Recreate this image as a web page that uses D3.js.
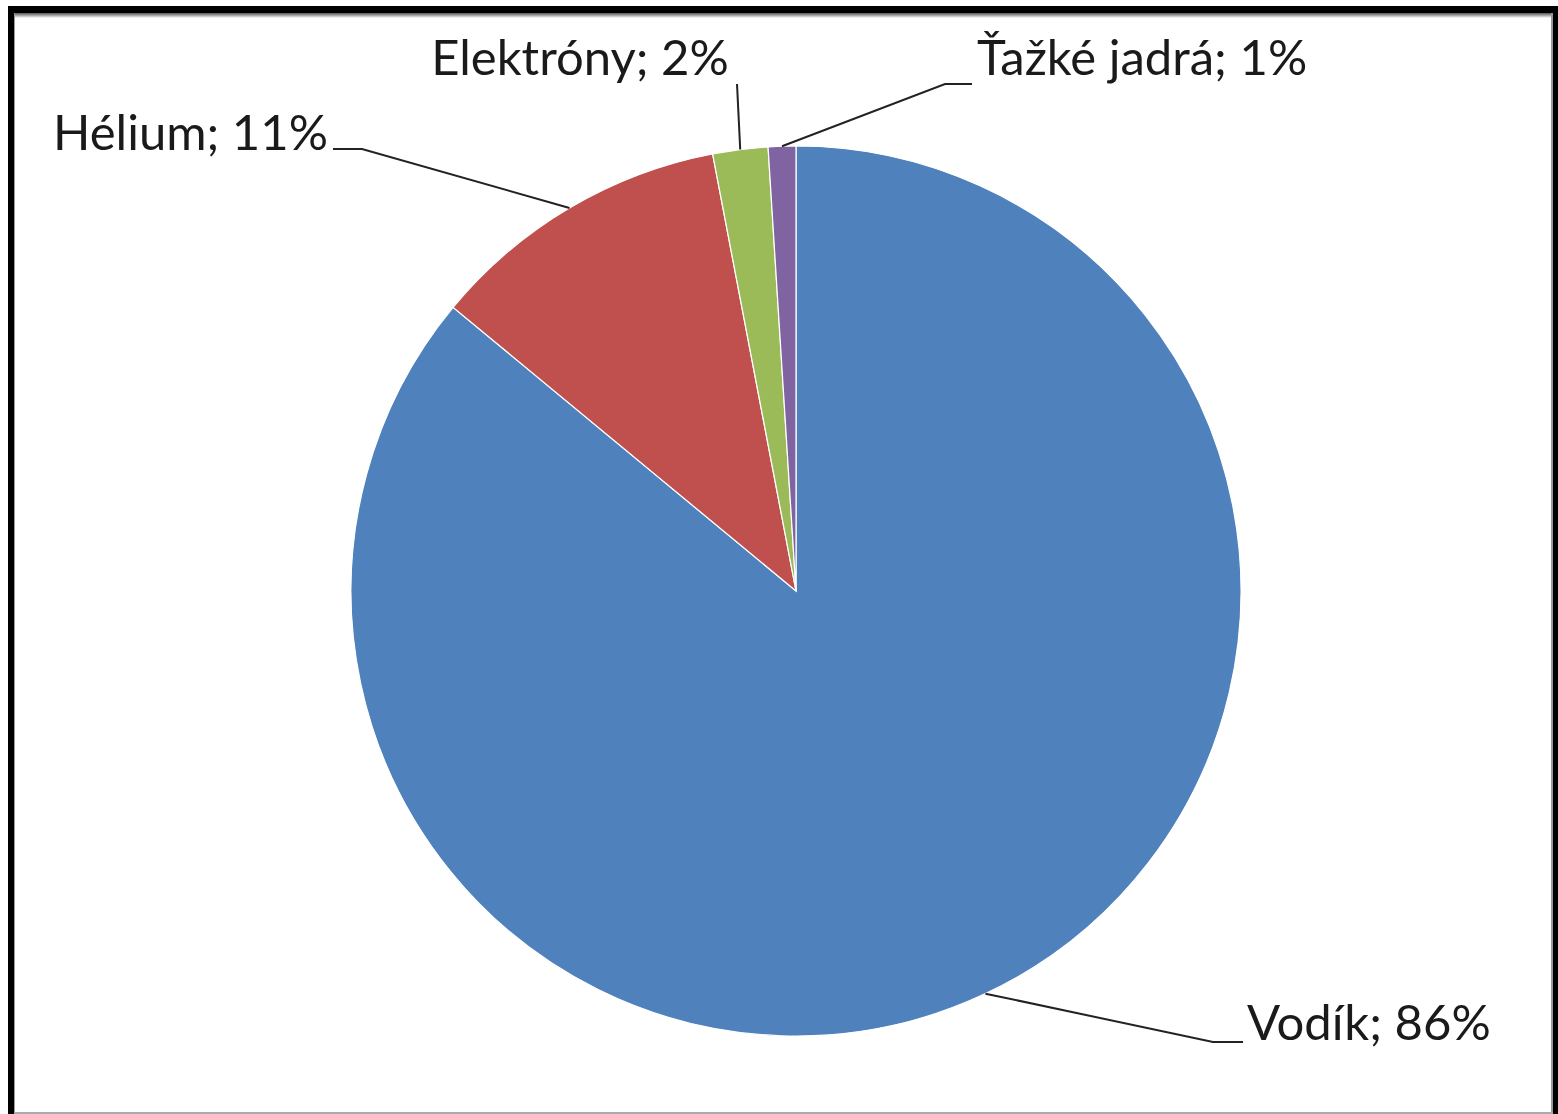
<!DOCTYPE html>
<html>
<head>
<meta charset="utf-8">
<script src="https://cdn.jsdelivr.net/npm/d3@7"></script>
<style>
  html, body { margin: 0; padding: 0; background: #fff; }
  svg { display: block; }
  .lbl { font-family: Lato, "Open Sans", sans-serif; font-size: 49px; fill: #1a1a1a; }
</style>
</head>
<body>
<svg id="chart" width="1558" height="1114"></svg>
<script>
// chart data
var categories = ["Vodík", "Hélium", "Elektróny", "Ťažké jadrá"];
var values = [86, 11, 2, 1];
var colors = ["#4F81BD", "#C0504D", "#9BBB59", "#8064A2"];

var svg = d3.select("#chart");

// frame (black border like the screenshot)
svg.append("rect").attr("x", 0).attr("y", 0).attr("width", 1558).attr("height", 1114).style("fill", "#fff");
svg.append("rect").attr("x", 8).attr("y", 6).attr("width", 1550).attr("height", 7).style("fill", "#000");
var grad = svg.append("defs").append("linearGradient")
        .attr("id", "topfade").attr("x1", 0).attr("y1", 0).attr("x2", 0).attr("y2", 1);
grad.append("stop").attr("offset", "0%").attr("stop-color", "#555");
grad.append("stop").attr("offset", "100%").attr("stop-color", "#fff");
svg.append("rect").attr("x", 14).attr("y", 13).attr("width", 1538).attr("height", 5).style("fill", "url(#topfade)");
svg.append("rect").attr("x", 8).attr("y", 6).attr("width", 6).attr("height", 1108).style("fill", "#000");
svg.append("rect").attr("x", 14).attr("y", 13).attr("width", 1).attr("height", 1101).style("fill", "#999");
svg.append("rect").attr("x", 1553).attr("y", 6).attr("width", 5).attr("height", 1108).style("fill", "#000");
svg.append("rect").attr("x", 1551).attr("y", 13).attr("width", 2).attr("height", 1101).style("fill", "#999");
svg.append("rect").attr("x", 14).attr("y", 1112).attr("width", 1539).attr("height", 2).style("fill", "#aaa");

var cx = 796, cy = 591, r = 445;

var pie = d3.pie().sort(null).value(function(d){ return d; });
var arcs = pie(values);

var arc = d3.arc().innerRadius(0).outerRadius(r);
var edge = d3.arc().innerRadius(r).outerRadius(r);

var g = svg.append("g").attr("transform", "translate(" + cx + "," + cy + ")");

g.selectAll("path.slice")
        .data(arcs)
        .enter().append("path")
        .attr("class", "slice")
        .attr("d", arc)
        .style("fill", function(d, i){ return colors[i]; })
        .style("stroke", "#fff")
        .style("stroke-width", 1.2);

// label layout (page coords): text anchor point and leader bend points
var labelPos = [
    {x: 1247, y: 1040, anchor: "start", bend: [[1213, 1042], [1243, 1042]]},
    {x: 328, y: 150, anchor: "end", bend: [[362, 149], [333, 149]]},
    {x: 580, y: 75, anchor: "middle", bend: [[737, 84]]},
    {x: 977, y: 75, anchor: "start", bend: [[945, 84], [972, 84]]}
];

var line = d3.line();

arcs.forEach(function(d, i){
    var c = edge.centroid(d);
    var pts = [[c[0] + cx, c[1] + cy]].concat(labelPos[i].bend);
    svg.append("path")
            .attr("d", line(pts))
            .style("fill", "none")
            .style("stroke", "#222")
            .style("stroke-width", 2);

    svg.append("text")
            .attr("class", "lbl")
            .attr("x", labelPos[i].x)
            .attr("y", labelPos[i].y)
            .attr("text-anchor", labelPos[i].anchor)
            .text(categories[i] + "; " + d3.format(".0f")(values[i]) + "%");
});
</script>
</body>
</html>
